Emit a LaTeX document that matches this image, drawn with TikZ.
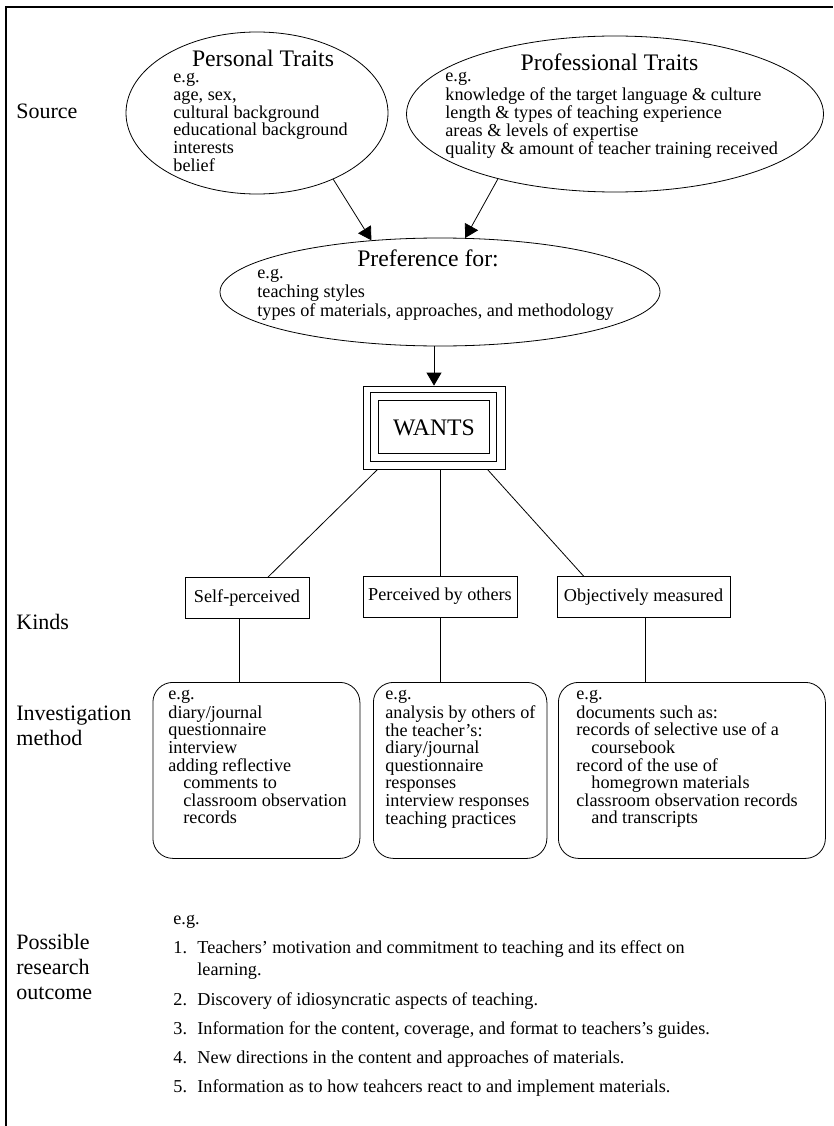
\documentclass[tikz,border=0pt]{standalone}
\usepackage{fontspec}
\setmainfont{Liberation Serif}
\usetikzlibrary{arrows.meta,shapes.geometric}

\begin{document}
\begin{tikzpicture}[x=1pt,y=-1pt,line width=0.8pt,
    lbl/.style={font=\fontsize{22}{25}\selectfont, inner sep=0pt, align=left},
    body/.style={font=\fontsize{18.2}{17.8}\selectfont, inner sep=0pt, align=left, anchor=north west},
    ttl/.style={font=\fontsize{23.7}{26}\selectfont, inner sep=0pt},
    oval/.style={draw, ellipse, inner sep=0pt},
    kind/.style={draw, font=\fontsize{18.2}{20}\selectfont, inner sep=0pt, minimum height=41pt},
    meth/.style={draw, rounded corners=20pt, minimum height=176pt, anchor=north west},
    arr/.style={-{Triangle[length=13pt,width=15pt]}}]
    \useasboundingbox (0,0) rectangle (833,1126);

    % frame
    \draw[line width=1.3pt] (6,1126) -- (6,7) -- (833,7);

    % row labels
    \node[lbl, anchor=base west] (src) at (16,119) {Source};
    \node[lbl, anchor=base west] (knd) at (16,629) {Kinds};
    \node[lbl, anchor=north west] (inv) at (16,702.5) {\strut Investigation\\method};
    \node[lbl, anchor=north west] (pos) at (16,931.5) {\strut Possible\\research\\outcome};

    % sources
    \node[oval, minimum width=262pt, minimum height=162pt] (pers) at (257,113) {};
    \node[ttl] (perst) at (263,58) {Personal Traits};
    \node[body] (persx) at (173,69.7) {\strut e.g.\\age, sex,\\cultural background\\educational background\\interests\\belief};

    \node[oval, minimum width=417pt, minimum height=156pt] (prof) at (615,114) {};
    \node[ttl] (proft) at (609.5,62) {Professional Traits};
    \node[body, font=\fontsize{18.2}{18}\selectfont] (profx) at (445,68.7) {\strut e.g.\\knowledge of the target language \& culture\\length \& types of teaching experience\\areas \& levels of expertise\\quality \& amount of teacher training received};

    \node[oval, minimum width=440pt, minimum height=108pt] (pref) at (440,292) {};
    \node[ttl] (preft) at (428,258) {Preference for:};
    \node[body, font=\fontsize{18.2}{19}\selectfont] (prefx) at (257,264.7) {\strut e.g.\\teaching styles\\types of materials, approaches, and methodology};

    \draw[arr] (pers.-41) -- (pref.143);
    \draw[arr] (prof.-151) -- (pref.65);

    % wants
    \node[draw, minimum width=142pt, minimum height=83pt, font=\fontsize{23.7}{26}\selectfont] (wants) at (434,427.5) {WANTS};
    \draw ([shift={(8,7)}]wants.north west) rectangle ([shift={(-9,-8)}]wants.south east);
    \draw ([shift={(16,15)}]wants.north west) rectangle ([shift={(-16,-16)}]wants.south east);
    \draw[arr] (pref.south -| wants.north) -- (wants.north);

    % kinds
    \node[kind, minimum width=124pt] (self) at (247,598) {Self-perceived};
    \node[kind, minimum width=154pt] (perc) at (440,596.5) {Perceived by others};
    \node[kind, minimum width=173pt] (obj) at (643.5,597) {Objectively measured};

    \draw ([xshift=15pt]wants.south west) -- ([xshift=21pt]self.north);
    \draw ([xshift=6pt]wants.south) -- (perc.north);
    \draw ([xshift=-18pt]wants.south east) -- ([xshift=27pt]obj.north west);

    % investigation methods
    \node[meth, minimum width=207pt] (m1) at (152.5,682) {};
    \node[meth, minimum width=173.5pt] (m2) at (373,682) {};
    \node[meth, minimum width=267pt] (m3) at (558,682) {};

    \draw ([xshift=-8pt]self.south) -- ([xshift=-8pt]self.south |- m1.north);
    \draw (perc.south) -- (perc.south |- m2.north);
    \draw ([xshift=2pt]obj.south) -- ([xshift=2pt]obj.south |- m3.north);

    \node[body, font=\fontsize{18.2}{17.6}\selectfont] (m1x) at (168,686.7) {\strut e.g.\\diary/journal\\questionnaire\\interview\\adding reflective\\\hspace*{15pt}comments to\\\hspace*{15pt}classroom observation\\\hspace*{15pt}records};
    \node[body, font=\fontsize{18.2}{17.6}\selectfont] (m2x) at (385,686.7) {\strut e.g.\\analysis by others of\\the teacher's:\\diary/journal\\questionnaire\\responses\\interview responses\\teaching practices};
    \node[body, font=\fontsize{18.2}{17.6}\selectfont] (m3x) at (576,686.7) {\strut e.g.\\documents such as:\\records of selective use of a\\\hspace*{15pt}coursebook\\record of the use of\\\hspace*{15pt}homegrown materials\\classroom observation records\\\hspace*{15pt}and transcripts};

    % research outcomes
    \node[body, anchor=base west] (eg) at (173,924) {e.g.};
    \node[body, anchor=base west] (n1) at (173,953) {1.};
    \node[body, font=\fontsize{18.2}{21.7}\selectfont] (o1) at (197,937.8) {\strut Teachers' motivation and commitment to teaching and its effect on\\learning.};
    \node[body, anchor=base west] (n2) at (173,1005) {2.};
    \node[body, anchor=base west] (o2) at (197,1005) {Discovery of idiosyncratic aspects of teaching.};
    \node[body, anchor=base west] (n3) at (173,1034) {3.};
    \node[body, anchor=base west] (o3) at (197,1034) {Information for the content, coverage, and format to teachers's guides.};
    \node[body, anchor=base west] (n4) at (173,1063) {4.};
    \node[body, anchor=base west] (o4) at (197,1063) {New directions in the content and approaches of materials.};
    \node[body, anchor=base west] (n5) at (173,1092) {5.};
    \node[body, anchor=base west] (o5) at (197,1092) {Information as to how teahcers react to and implement materials.};
\end{tikzpicture}
\end{document}
